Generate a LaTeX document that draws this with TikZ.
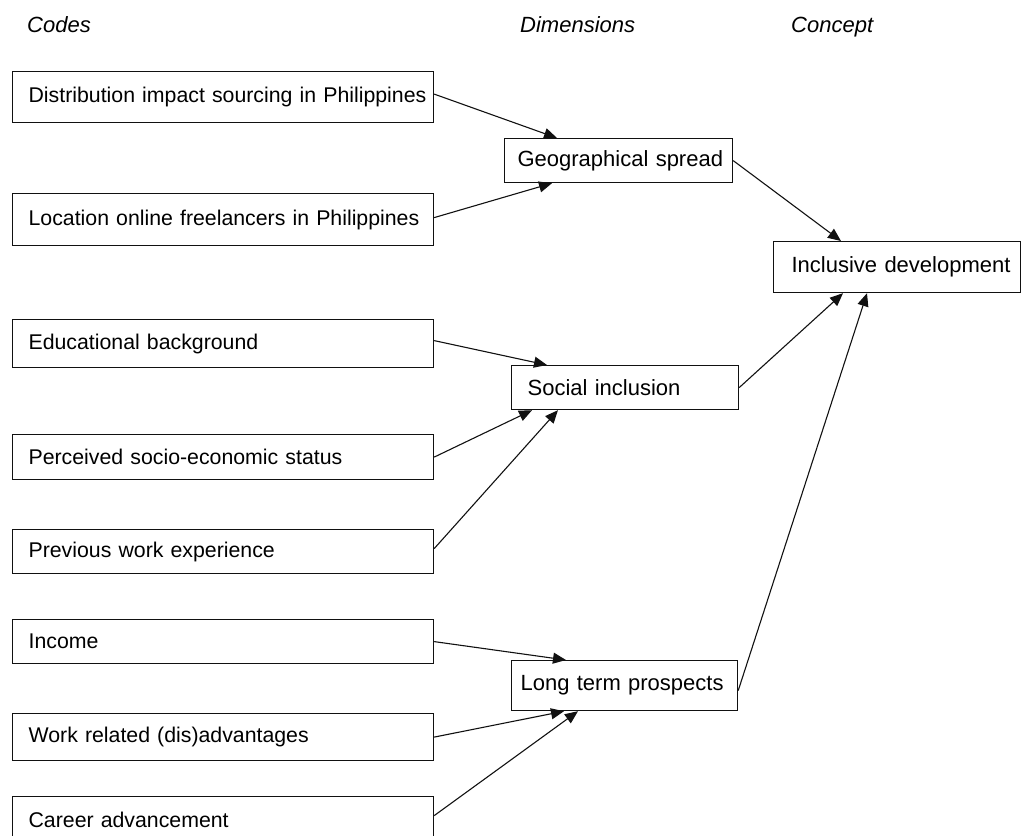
\documentclass[tikz,border=0pt]{standalone}
\usepackage{fontspec}
\setmainfont{Liberation Sans}
\usetikzlibrary{arrows.meta}
\definecolor{ln}{HTML}{111111}

\tikzset{
	codebox/.style={draw=ln, line width=1.2pt, anchor=north west, inner xsep=16pt, inner ysep=0pt, text width=389pt, align=left, font=\fontsize{21.3}{26}\selectfont},
	dimbox/.style={draw=ln, line width=1.2pt, anchor=north west, inner ysep=0pt, align=left, font=\fontsize{22}{26}\selectfont},
	head/.style={anchor=base west, inner sep=0pt, font=\fontsize{22}{26}\selectfont\itshape},
	link/.style={draw=ln, line width=1.1pt, -{Triangle[length=13pt,width=11pt]}}
}

\begin{document}
\begin{tikzpicture}[x=1pt,y=-1pt]

\useasboundingbox (0,0) rectangle (1021,836);
\clip (0,0) rectangle (1021,836);

% column heads
\node[head] (hcodes) at (27,32) {Codes};
\node[head] (hdims) at (520,32) {Dimensions};
\node[head] (hconc) at (791,32) {Concept};

% codes
\foreach \n/\y/\h/\t in {c1/71/51/Distribution impact sourcing in Philippines,
	c2/193/52/Location online freelancers in Philippines,
	c3/319/48/Educational background,
	c4/434/45/Perceived socio-economic status,
	c5/529/44/Previous work experience,
	c6/619/44/Income,
	c7/713/47/Work related (dis)advantages,
	c8/796/46/Career advancement}{
	\node[codebox, minimum height=\h pt] (\n) at (12,\y) {\mbox{\t}};
}

% dimensions
\node[dimbox, inner xsep=13pt, text width=202pt, minimum height=44pt] (geo) at (504,138) {\mbox{Geographical spread}};
\node[dimbox, inner xsep=16pt, text width=195pt, minimum height=44pt] (soc) at (511,365) {\mbox{Social inclusion}};
\node[dimbox, inner xsep=9pt, text width=208pt, minimum height=50pt] (lt) at (511,660) {\mbox{Long term prospects}};

% concept
\node[dimbox, inner xsep=18pt, text width=211pt, minimum height=51pt] (incl) at (773,241) {\mbox{Inclusive development}};

% codes -> dimensions
\draw[link] ([yshift=3pt]c1.east) -- ([xshift=53pt]geo.north west);
\draw[link] ([yshift=2pt]c2.east) -- ([xshift=48pt]geo.south west);
\draw[link] ([yshift=3pt]c3.east) -- ([xshift=36pt]soc.north west);
\draw[link] (c4.east) -- ([xshift=21pt]soc.south west);
\draw[link] ([yshift=3pt]c5.east) -- ([xshift=47pt]soc.south west);
\draw[link] (c6.east) -- ([xshift=55pt]lt.north west);
\draw[link] (c7.east) -- ([xshift=53pt]lt.south west);
\draw[link] ([yshift=4pt]c8.east) -- ([xshift=67pt]lt.south west);

% dimensions -> concept
\draw[link] (geo.east) -- ([xshift=68pt]incl.north west);
\draw[link] (soc.east) -- ([xshift=70pt]incl.south west);
\draw[link] ([yshift=-5pt]lt.east) -- ([xshift=94pt]incl.south west);

\end{tikzpicture}
\end{document}
